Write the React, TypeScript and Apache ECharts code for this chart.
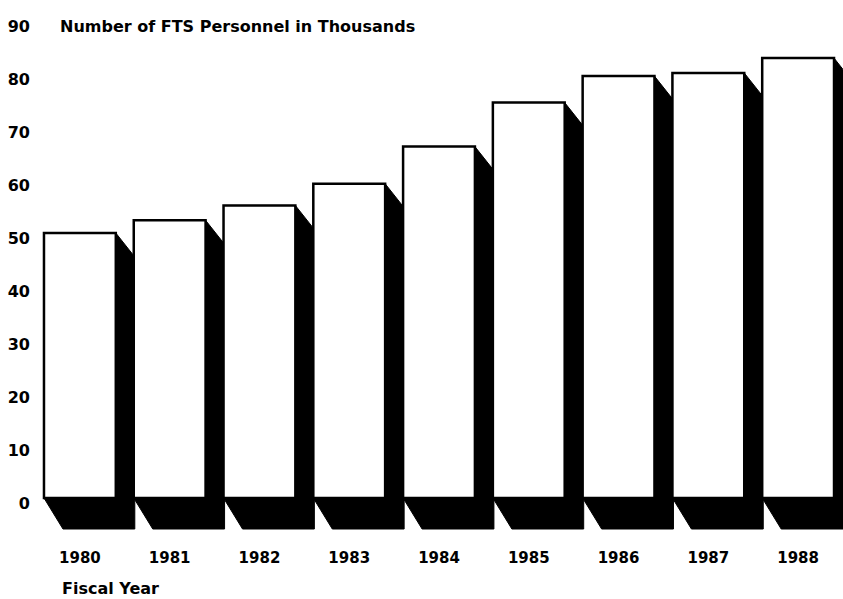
import React, { useEffect, useRef } from "react";
import * as echarts from "echarts";

const years = ["1980", "1981", "1982", "1983", "1984", "1985", "1986", "1987", "1988"];
const personnel = [50.0, 52.4, 55.2, 59.3, 66.3, 74.6, 79.6, 80.2, 83.0];
const yTicks = { min: 0, max: 90, interval: 10 };
const titleText = "Number of FTS Personnel in Thousands";
const xTitle = "Fiscal Year";

const FONT = "DejaVu Sans";

export default function App() {
  const ref = useRef<HTMLDivElement>(null);
  useEffect(() => {
    if (!ref.current) return;
    const chart = echarts.init(ref.current, null, { renderer: "svg" });
    const dx = 19;
    const dy = 31;
    const dyTop = 24;
    chart.setOption({
      animation: false,
      backgroundColor: "#ffffff",
      title: [
        {
          text: titleText,
          left: 60,
          top: 18,
          padding: 0,
          textStyle: { fontFamily: FONT, fontSize: 16, fontWeight: "bold", color: "#000" },
        },
        {
          text: xTitle,
          left: 62,
          top: 580,
          padding: 0,
          textStyle: { fontFamily: FONT, fontSize: 16, fontWeight: "bold", color: "#000", lineHeight: 16 },
        },
      ],
      grid: { left: 35, right: 0, top: 21, bottom: 101, containLabel: false },
      xAxis: {
        type: "category",
        data: years,
        axisLine: { show: false },
        axisTick: { show: false },
        splitLine: { show: false },
        axisLabel: {
          margin: 52,
          fontFamily: FONT,
          fontSize: 15,
          fontWeight: "bold",
          color: "#000",
        },
      },
      yAxis: {
        type: "value",
        min: yTicks.min,
        max: yTicks.max,
        interval: yTicks.interval,
        axisLine: { show: false },
        axisTick: { show: false },
        splitLine: { show: false },
        axisLabel: {
          margin: 5,
          fontFamily: FONT,
          fontSize: 16,
          fontWeight: "bold",
          color: "#000",
          verticalAlign: "top",
          lineHeight: 10,
        },
      },
      series: [
        {
          type: "custom",
          data: personnel.map((v, i) => [i, v]),
          encode: { x: 0, y: 1 },
          renderItem: (params: any, api: any) => {
            const idx = api.value(0);
            const top = api.coord([idx, api.value(1)]);
            const base = api.coord([idx, 0]);
            const band = api.size([1, 0])[0];
            const w = band * 0.8;
            const x0 = top[0] - w / 2;
            const x1 = top[0] + w / 2;
            const yt = top[1];
            const yb = base[1];
            return {
              type: "group",
              children: [
                {
                  type: "polygon",
                  shape: {
                    points: [
                      [x0, yt],
                      [x1, yt],
                      [x1 + dx, yt + dyTop],
                      [x1 + dx, yb + dy],
                      [x0 + dx, yb + dy],
                      [x0, yb],
                    ],
                  },
                  style: { fill: "#000", stroke: "#000", lineWidth: 1 },
                },
                {
                  type: "rect",
                  shape: { x: x0, y: yt, width: w, height: yb - yt },
                  style: { fill: "#fff", stroke: "#000", lineWidth: 2.5 },
                },
              ],
            };
          },
        },
      ],
    });
    return () => chart.dispose();
  }, []);
  return (
    <div
      ref={ref}
      style={{ width: 843, height: 599, position: "fixed", left: 0, top: 0 }}
    />
  );
}
